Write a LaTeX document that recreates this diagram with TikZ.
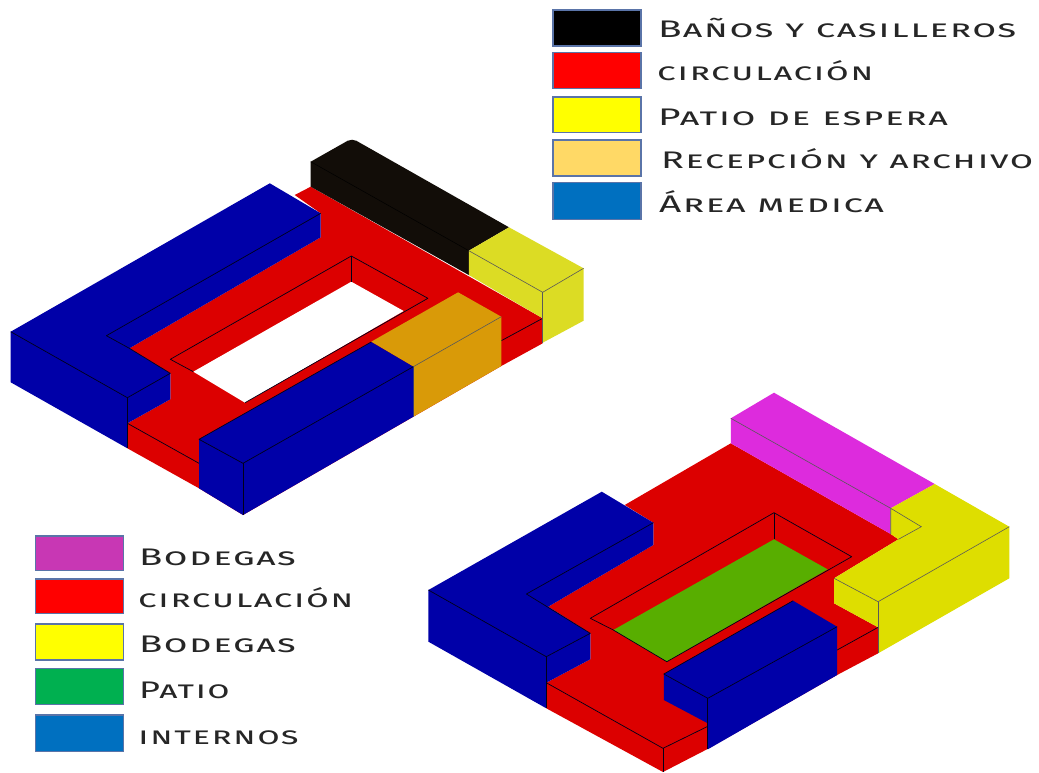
\documentclass[tikz,border=0pt]{standalone}
\usepackage{fontspec}
\newfontfamily\legendfont[FakeStretch=1.6,LetterSpace=6,Letters=SmallCaps]{Fira Sans}
\definecolor{cblue}{HTML}{0000A8}
\definecolor{cred}{HTML}{DC0000}
\definecolor{cblack}{HTML}{120D08}
\definecolor{cyel}{HTML}{DCDC24}
\definecolor{cyelb}{HTML}{DEDE00}
\definecolor{corange}{HTML}{D99A08}
\definecolor{cmag}{HTML}{DD2BDD}
\definecolor{cgreen}{HTML}{58AE00}
\definecolor{swborder}{HTML}{5A74A8}
\definecolor{swred}{HTML}{FF0000}
\definecolor{swyel}{HTML}{FFFF00}
\definecolor{sworange}{HTML}{FFD966}
\definecolor{swblue}{HTML}{0070C0}
\definecolor{swmag}{HTML}{C837B4}
\definecolor{swgreen}{HTML}{00B050}
\tikzset{
  face/.style={fill=#1,draw=none},
  edge/.style={draw=black!85!cblue,line width=0.7pt,line join=round},
  thinedge/.style={draw=black!65,line width=0.6pt},
  swatch/.style={fill=#1,draw=swborder,line width=1.2pt},
  legendlabel/.style={anchor=base west,inner sep=0pt,text=black!85,font=\fontsize{24}{26}\legendfont},
  squeeze/.style={transform shape,xscale=#1}
}
\begin{document}
\begin{tikzpicture}[x=1pt,y=-1pt]
\path[use as bounding box,fill=white] (0,0) rectangle (1039,772);
% --- upper building ---
\fill[face=cred] (294.7,195)--(310.7,186.7)--(542.7,318.3)--(542.7,343.3)--(501.3,366)--(243,515)--(199,488.3)--(127.4,448.3)--(127.4,423.3)--(170.3,399.3)--(170.3,373.3)--(129.4,348.3)--(320.7,237.3)--(320.7,213.3)--cycle;
\fill[white] (351.3,281.7)--(403.7,311)--(245,402.7)--(193.3,371.7)--cycle;
\draw[edge] (193.3,371.7)--(170.3,359.3)--(351.3,256)--(427.9,298.3)--(245,402.7);
\draw[edge] (351.3,256)--(351.3,281.7);
\draw[edge] (127.4,423.3)--(199,463.3);
\draw[edge] (542.7,318.3)--(501.3,340.7);
% black block
\fill[face=cblack] (310.7,161.7) [rounded corners=5pt] --(352,138.3) [sharp corners] --(509,227.3)--(468.8,250.7)--(468.8,275)--(310.7,186.7)--cycle;
\draw[draw=black,line width=0.5pt] (310.7,161.7)--(468.8,250.7);
% yellow block
\fill[face=cyel] (468.8,250.7)--(509,227.3)--(583.6,268.3)--(583.6,320.7)--(542.7,342.7)--(542.7,318.3)--(468.8,275)--cycle;
\draw[thinedge] (468.8,250.7)--(542.7,292.3)--(583.6,268.3);
\draw[thinedge] (542.7,292.3)--(542.7,342.7);
% blue L
\fill[face=cblue] (10.7,331.7)--(269.8,183.3)--(320.7,213.3)--(320.7,237.3)--(129.4,348.3)--(170.3,373.3)--(170.3,399.3)--(127.4,423.3)--(127.4,448.3)--(10.7,382.3)--cycle;
\draw[edge] (10.7,331.7)--(127.4,397.7)--(170.3,373.3)--(129.4,348.3)--(106.4,335.7)--(320.7,213.3);
\draw[edge] (127.4,397.7)--(127.4,448.3);
% orange
\fill[face=corange] (371.2,341.7)--(458.1,292.3)--(501.3,316.7)--(501.3,366)--(413.3,416.7)--(413.3,366.7)--cycle;
\draw[thinedge] (413.3,366.7)--(501.3,316.7);
\draw[thinedge] (413.3,366.7)--(413.3,416.7);
% lower blue
\fill[face=cblue] (199,439.3)--(371.2,342)--(413.3,366.7)--(413.3,416.7)--(243,515)--(199,488.3)--cycle;
\draw[edge] (371.2,342)--(199,439.3)--(243,463.3)--(413.3,366.7);
\draw[edge] (243,463.3)--(243,515);
% --- lower building ---
\fill[face=cred] (624.7,505)--(730.8,443.3)--(890.7,534)--(898.4,539.3)--(834.1,578.3)--(834.1,603.3)--(878.1,627.3)--(878.1,653.3)--(837.1,675)--(707,749.3)--(663,772)--(546.3,708.3)--(546.3,682.7)--(590.3,659.3)--(590.3,633.3)--(548.2,606.7)--(653.4,545)--(653.4,522.7)--cycle;
\fill[face=cgreen] (774,539.3)--(827.6,569.3)--(666.8,661.7)--(613.3,630)--cycle;
\draw[edge] (666.8,661.7)--(613.3,630)--(590.3,618.3)--(774,512.7)--(851.7,556.7)--(666.8,661.7);
\draw[edge] (774,512.7)--(774,539.3);
\draw[edge] (546.3,682.7)--(663,748.3)--(707,726.7);
\draw[edge] (663,748.3)--(663,772);
\draw[edge] (878.1,627.3)--(837.1,650);
% magenta
\fill[face=cmag] (730.8,418.3)--(774,392.7)--(934.7,484)--(890.7,508.3)--(890.7,534)--(730.8,443.3)--cycle;
\draw[thinedge] (730.8,418.3)--(890.7,508.3);
% yellow L
\fill[face=cyelb] (890.7,508.3)--(934.7,484)--(1009.3,526.7)--(1009.3,578.3)--(878.1,653.3)--(878.1,627.3)--(834.1,603.3)--(834.1,578.3)--(898.4,539.3)--(890.7,534)--cycle;
\draw[thinedge] (890.7,534)--(890.7,508.3)--(921.3,526.7)--(898.4,539.3);
\draw[thinedge] (834.1,578.3)--(878.1,601.7)--(1009.3,526.7);
\draw[thinedge] (878.1,601.7)--(878.1,653.3);
% blue L
\fill[face=cblue] (428.4,590)--(601.8,491.7)--(653.4,522.7)--(653.4,545)--(548.2,606.7)--(590.3,633.3)--(590.3,659.3)--(546.3,682.7)--(546.3,708.3)--(428.4,641.7)--cycle;
\draw[edge] (428.4,590)--(546.3,656.7)--(590.3,633.3)--(526.4,594)--(653.4,522.7);
\draw[edge] (546.3,656.7)--(546.3,708.3);
% lower blue
\fill[face=cblue] (793.1,600.7)--(837.1,626.7)--(837.1,675)--(707.8,749.3)--(707.8,723.3)--(663.8,700)--(663.8,674)--cycle;
\draw[edge] (793.1,600.7)--(663.8,674)--(707.8,698.3)--(837.1,626.7);
\draw[edge] (707.8,698.3)--(707.8,749.3);
% --- legends ---
\path[swatch=black] (553,10) rectangle (641,46);
\path[swatch=swred] (553,52.7) rectangle (641,88.7);
\path[swatch=swyel] (553,97) rectangle (641,132.7);
\path[swatch=sworange] (553,140) rectangle (641,176);
\path[swatch=swblue] (553,182.7) rectangle (641,219.3);
\node[legendlabel,squeeze=1.01] (t1) at (658,37) {Baños y casilleros};
\node[legendlabel,squeeze=0.97] (t2) at (657,80) {circulación};
\node[legendlabel,squeeze=1.01] (t3) at (658,125) {Patio de espera};
\node[legendlabel,squeeze=0.985] (t4) at (661,168) {Recepción y archivo};
\node[legendlabel,squeeze=1.01] (t5) at (659,212) {Área medica};
\path[swatch=swmag] (35.7,536) rectangle (123.3,570.7);
\path[swatch=swred] (35.7,579) rectangle (123.3,613.7);
\path[swatch=swyel] (35.7,624) rectangle (123.3,660);
\path[swatch=swgreen] (35.7,668.7) rectangle (123.3,704.3);
\path[swatch=swblue] (35.7,715) rectangle (123.3,751.7);
\node[legendlabel] (b1) at (139,565) {Bodegas};
\node[legendlabel,squeeze=0.965] (b2) at (138,607) {circulación};
\node[legendlabel] (b3) at (139,652) {Bodegas};
\node[legendlabel,squeeze=0.94] (b4) at (139,698) {Patio};
\node[legendlabel,squeeze=0.95] (b5) at (138,744) {internos};
\end{tikzpicture}
\end{document}
